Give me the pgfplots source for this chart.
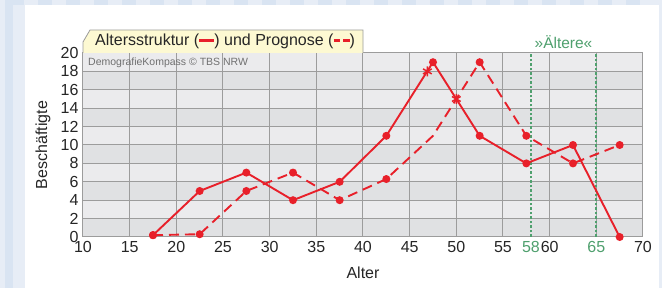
\documentclass[border=0pt]{standalone}
\usepackage{pgfplots}
\pgfplotsset{compat=1.18}
\usepackage{fontspec}
\setmainfont{Liberation Sans}
\definecolor{myred}{HTML}{E8202A}
\definecolor{mygreen}{HTML}{4FA06E}
\definecolor{bandA}{HTML}{EBEBED}
\definecolor{bandB}{HTML}{E0E1E3}
\definecolor{gridc}{HTML}{9C9C9C}
\definecolor{boxfill}{HTML}{FDF9D2}
\definecolor{bgA}{HTML}{E7EDF6}
\definecolor{bgB}{HTML}{D9E4F2}
\definecolor{txtgray}{HTML}{707070}
\begin{document}
\begin{tikzpicture}[x=1pt,y=1pt]
\fill[bgA] (0,0) rectangle (662,288);
\fill[bgB] (5,0) rectangle (13,288);
\foreach \i in {0,...,22} { \fill[bgB] (\i*28+10, 283) rectangle (\i*28+24, 288); }
\fill[white] (25,0) rectangle (659,283);
% alternating bands of the plot area (axis spans 51..235 pt vertically)
\fill[bandA] (83,51) rectangle (643,235);
\foreach \k in {0,2,4,6,8} { \fill[bandB] (83,51+\k*18.4) rectangle (643,51+\k*18.4+18.4); }
\begin{axis}[at={(83pt,51pt)}, anchor=south west, scale only axis,
  width=560pt, height=184pt, xmin=10, xmax=70, ymin=0, ymax=20,
  clip=false,
  axis line style={gridc, line width=1pt},
  grid=major, grid style={gridc, line width=1pt},
  major tick length=0pt,
  /pgf/number format/assume math mode=true,
  tick label style={font=\fontsize{16}{16}\selectfont, text=black!85},
  xtick={10,15,20,25,30,35,40,45,50,55,60,65,70},
  xticklabels={10,15,20,25,30,35,40,45,50,55,60,\textcolor{mygreen}{65},70},
  extra x ticks={58}, extra x tick labels={58},
  extra x tick style={grid=none, tick label style={text=mygreen}},
  ytick={0,2,...,20},
  yticklabel style={xshift=-1pt},
  xticklabel style={yshift=-1pt},
  xlabel={Alter}, ylabel={Beschäftigte},
  label style={font=\fontsize{16}{16}\selectfont, text=black!85},
  xlabel style={at={(axis description cs:0.5,-0.196)}, anchor=center},
  ylabel style={at={(axis description cs:-0.0714,0.5)}, anchor=center},
]
\draw[mygreen, line width=2pt, dash pattern=on 2.5pt off 2pt] (axis cs:58,0) -- (axis cs:58,20);
\draw[mygreen, line width=2pt, dash pattern=on 2.5pt off 2pt] (axis cs:65,0) -- (axis cs:65,20);
\addplot[myred, line width=1.9pt, dash pattern=on 10pt off 6pt, mark=*, mark size=3pt,
  mark options={solid}, mark indices={1,2,3,4,5,6,8,9,10,11}] coordinates {
  (17.5,0.2) (22.5,0.3) (27.5,5) (32.5,7) (37.5,4) (42.5,6.3) (47.5,11)
  (52.5,19) (57.5,11) (62.5,8) (67.5,10)};
\addplot[myred, line width=1.9pt, mark=*, mark size=3pt] coordinates {
  (17.5,0.2) (22.5,5) (27.5,7) (32.5,4) (37.5,6) (42.5,11) (47.5,19)
  (52.5,11) (57.5,8) (62.5,10) (67.5,0)};
\addplot[myred, only marks, mark=asterisk, mark size=5pt, line width=1.5pt]
  coordinates {(46.9,18) (50,15)};
\end{axis}
\draw[gridc, line width=0.8pt, fill=boxfill] (83,235) -- (83,246) -- (90,258) -- (363,258) -- (363,235);
\node[anchor=west, inner sep=0pt, font=\fontsize{16}{16}\selectfont, text=black!85] at (95,246.5)
  {Altersstruktur (\textcolor{myred}{\rule[0.25em]{0.95em}{2.4pt}}) und Prognose (\textcolor{myred}{\rule[0.25em]{0.4em}{2.4pt}\hspace{0.2em}\rule[0.25em]{0.4em}{2.4pt}})};
\node[anchor=west, inner sep=0pt, font=\fontsize{10.5}{10.5}\selectfont, text=txtgray] at (88,225)
  {DemografieKompass © TBS NRW};
\node[inner sep=0pt, font=\fontsize{15.5}{15.5}\selectfont, text=mygreen] at (563.5,246)
  {»Ältere«};
\pgfresetboundingbox
\path (0,0) rectangle (662,288);
\end{tikzpicture}
\end{document}
